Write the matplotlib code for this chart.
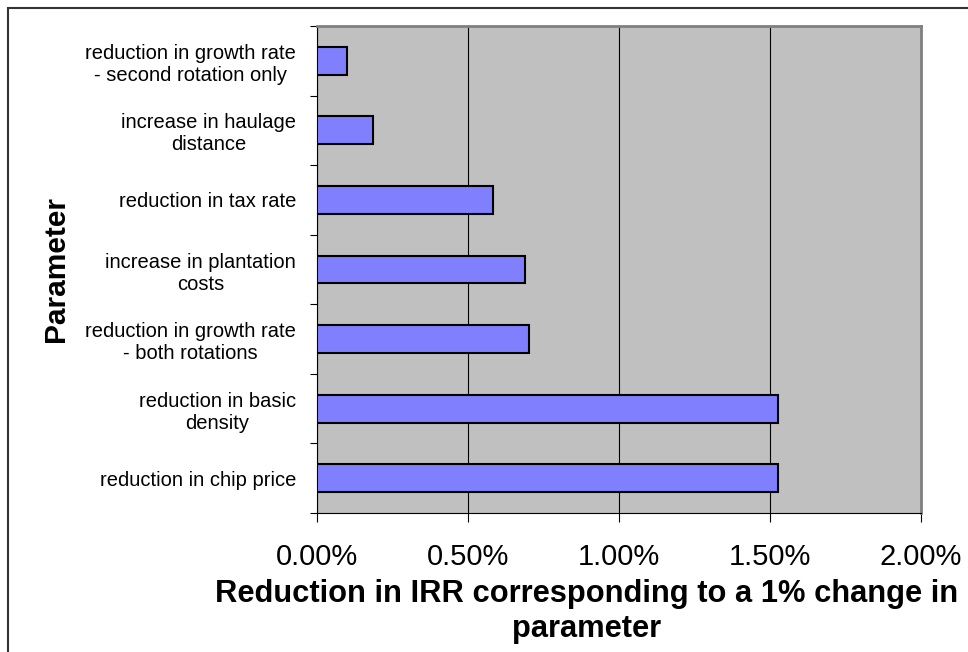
import matplotlib
matplotlib.use('Agg')
import matplotlib.pyplot as plt
from matplotlib.patches import Rectangle
from matplotlib.ticker import FixedLocator, PercentFormatter

plt.rcParams['font.family'] = ['Liberation Sans', 'DejaVu Sans']

# bottom to top, as in the chart
params = ['reduction in chip price',
          'reduction in basic\ndensity',
          'reduction in growth rate\n- both rotations',
          'increase in plantation\ncosts',
          'reduction in tax rate',
          'increase in haulage\ndistance',
          'reduction in growth rate\n- second rotation only']
irr_drop = [1.525, 1.525, 0.702, 0.690, 0.584, 0.184, 0.098]  # percent
x_ticks = [0.0, 0.5, 1.0, 1.5, 2.0]

fig = plt.figure(figsize=(9.68, 6.52), dpi=100)
fig.patch.set_facecolor('white')
# chart-area border (only top and left visible in the reference)
fig.patches.append(Rectangle((8 / 968, -0.1), 1.2, 1.1 - 7.5 / 652,
                             transform=fig.transFigure, fill=False,
                             edgecolor='#333333', linewidth=1.5))

ax = fig.add_axes([317 / 968, 1 - 513 / 652, 604 / 968, 487 / 652])
ax.set_facecolor('#C0C0C0')

ypos = list(range(len(params)))
ax.barh(ypos, irr_drop, height=0.4, color='#8080FF', edgecolor='black',
        linewidth=1.5, zorder=3)

ax.set_xlim(0, 2.0)
ax.set_ylim(-0.5, len(params) - 0.5)

ax.set_xticks(x_ticks)
ax.xaxis.set_major_formatter(PercentFormatter(decimals=2))
ax.grid(axis='x', color='black', linewidth=0.8, zorder=1)
ax.tick_params(axis='x', direction='out', length=6.5, width=0.8,
               pad=15, labelsize=21)

ax.set_yticks(ypos)
ax.set_yticklabels(params, multialignment='center', fontsize=14.5)
ax.yaxis.set_minor_locator(FixedLocator([i - 0.5 for i in range(len(params) + 1)]))
ax.tick_params(axis='y', which='major', length=0, pad=15)
ax.tick_params(axis='y', which='minor', direction='out', length=5, width=0.8)

for s in ['top', 'right']:
    ax.spines[s].set_color('#808080')
    ax.spines[s].set_linewidth(2)
for s in ['left', 'bottom']:
    ax.spines[s].set_color('black')
    ax.spines[s].set_linewidth(0.8)

ax.set_xlabel('Reduction in IRR corresponding to a 1% change in\nparameter',
              fontsize=22.2, fontweight='bold', linespacing=1.22)
ax.xaxis.set_label_coords(0.447, -0.136)
ax.set_ylabel('Parameter', fontsize=21.5, fontweight='bold')
ax.yaxis.set_label_coords(-(317 - 56) / 604, 0.5)
ax.yaxis.label.set_va('center')

fig.savefig('out.png', dpi=100)
